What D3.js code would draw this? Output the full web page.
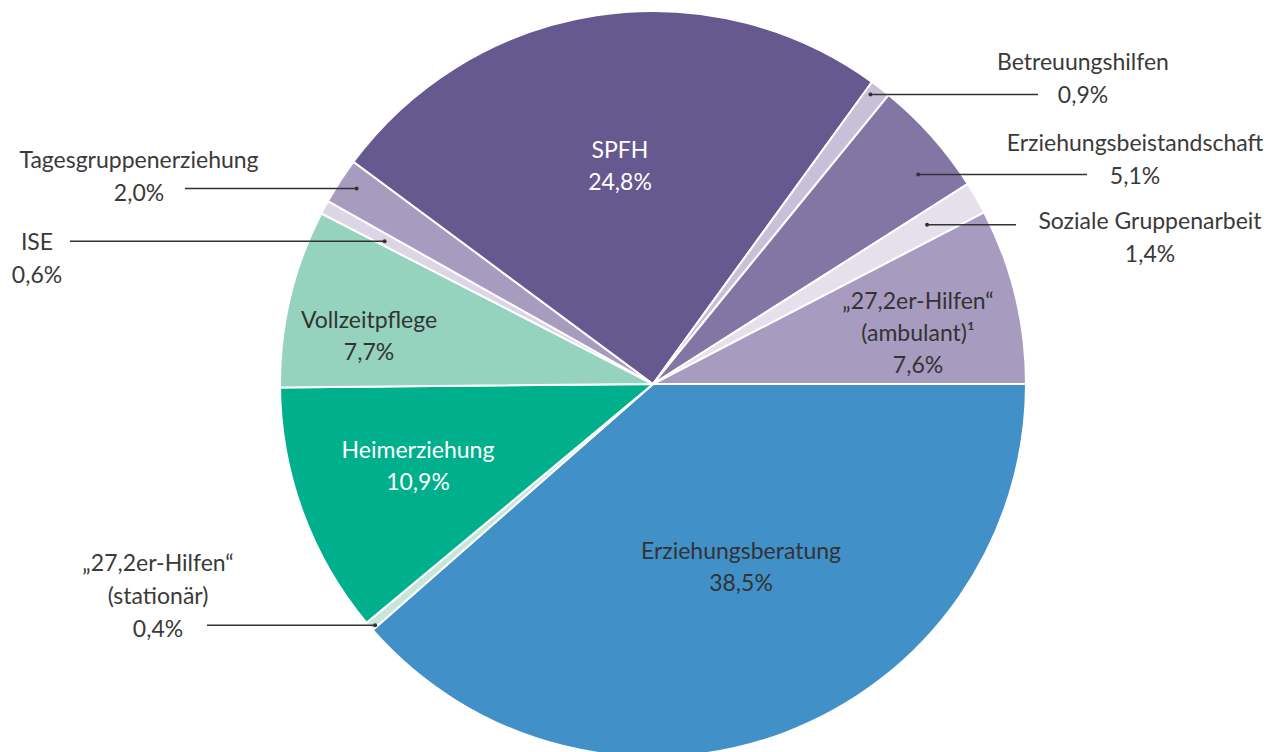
<!DOCTYPE html>
<html>
<head>
<meta charset="utf-8">
<script src="https://cdn.jsdelivr.net/npm/d3@7"></script>
<style>
  body { margin: 0; background: #fff; }
  text { font-family: Lato, "Noto Sans", sans-serif; font-size: 23px; }
</style>
</head>
<body>
<div id="chart-area"></div>
<script>
// categories, clockwise from 3 o'clock
var categories = ["Erziehungsberatung", "\u201E27,2er-Hilfen\u201C (stationär)", "Heimerziehung",
    "Vollzeitpflege", "ISE", "Tagesgruppenerziehung", "SPFH", "Betreuungshilfen",
    "Erziehungsbeistandschaft", "Soziale Gruppenarbeit", "\u201E27,2er-Hilfen\u201C (ambulant)"];
var values = [38.5, 0.4, 10.9, 7.7, 0.6, 2.0, 24.8, 0.9, 5.1, 1.4, 7.6];
var valueLabels = ["38,5%", "0,4%", "10,9%", "7,7%", "0,6%", "2,0%", "24,8%", "0,9%", "5,1%", "1,4%", "7,6%"];
var colors = ["#4190c8", "#c6e6d9", "#00b08c", "#95d3bf", "#dcd5e6", "#a89bc0",
    "#665990", "#c8c0d9", "#8476a4", "#e4e0ec", "#a89bc0"];

var width = 1269, height = 752;
var cx = 653, cy = 384, radius = 373;

var svg = d3.select("#chart-area")
    .append("svg")
    .attr("width", width)
    .attr("height", height);

var g = svg.append("g")
    .attr("transform", "translate(" + cx + "," + cy + ")");

var pie = d3.pie()
    .sort(null)
    .value(function(d){ return d; })
    .startAngle(Math.PI / 2)
    .endAngle(Math.PI / 2 + 2 * Math.PI);

var arcs = pie(values);

var arc = d3.arc().innerRadius(0).outerRadius(radius);

g.selectAll("path.slice")
    .data(arcs)
    .enter().append("path")
    .attr("class", "slice")
    .attr("d", arc)
    .attr("fill", function(d, i){ return colors[i]; })
    .attr("stroke", "#fff")
    .attr("stroke-width", 2);

// labels inside slices
var inside = [
    { i: 0, x: 741, y: 551, lines: ["Erziehungsberatung", valueLabels[0]], fill: "#333" },
    { i: 2, x: 418, y: 450, lines: ["Heimerziehung", valueLabels[2]], fill: "#fff" },
    { i: 3, x: 369, y: 320, lines: ["Vollzeitpflege", valueLabels[3]], fill: "#333" },
    { i: 6, x: 620, y: 150, lines: ["SPFH", valueLabels[6]], fill: "#fff" },
    { i: 10, x: 918, y: 301, lines: ["\u201E27,2er-Hilfen\u201C", "(ambulant)\u00B9", valueLabels[10]], fill: "#333" }
];

inside.forEach(function(l){
    var t = g.append("text")
        .attr("text-anchor", "middle")
        .attr("fill", l.fill);
    l.lines.forEach(function(s, k){
        t.append("tspan")
            .attr("x", l.x - cx)
            .attr("y", l.y - cy + 8 + k * 32)
            .text(s);
    });
});

// outside labels with leader lines
// f: position of the leader end inside the slice (0 = start angle, 1 = end angle)
// r: radius of the leader end point; lineX: where the line stops; tx/ty: label centre
var outside = [
    { i: 7, f: 0.3, r: 362, lineX: 1038, tx: 1083, ty: 62, lines: ["Betreuungshilfen", valueLabels[7]] },
    { i: 8, f: 0.68, r: 338, lineX: 1087, tx: 1135, ty: 143, lines: ["Erziehungsbeistandschaft", valueLabels[8]] },
    { i: 9, f: 0.45, r: 317, lineX: 1016, tx: 1150, ty: 221, lines: ["Soziale Gruppenarbeit", valueLabels[9]] },
    { i: 5, f: 0.56, r: 355, lineX: 185, tx: 139, ty: 160, lines: ["Tagesgruppenerziehung", valueLabels[5]] },
    { i: 4, f: 0.37, r: 304, lineX: 70, tx: 37, ty: 242, lines: ["ISE", valueLabels[4]] },
    { i: 1, f: 0.2, r: 368, lineX: 207, tx: 158, ty: 563, lines: ["\u201E27,2er-Hilfen\u201C", "(stationär)", valueLabels[1]] }
];

outside.forEach(function(l){
    var d = arcs[l.i];
    var a = d.startAngle + (d.endAngle - d.startAngle) * l.f;
    var px = l.r * Math.sin(a), py = -l.r * Math.cos(a);

    g.append("line")
        .attr("x1", px).attr("y1", py)
        .attr("x2", l.lineX - cx).attr("y2", py)
        .attr("stroke", "#333")
        .attr("stroke-width", 1.5);
    g.append("circle")
        .attr("cx", px).attr("cy", py)
        .attr("r", 2)
        .attr("fill", "#333");

    var t = g.append("text")
        .attr("text-anchor", "middle")
        .attr("fill", "#3a3a3a");
    l.lines.forEach(function(s, k){
        t.append("tspan")
            .attr("x", l.tx - cx)
            .attr("y", l.ty - cy + 8 + k * 33)
            .text(s);
    });
});
</script>
</body>
</html>
